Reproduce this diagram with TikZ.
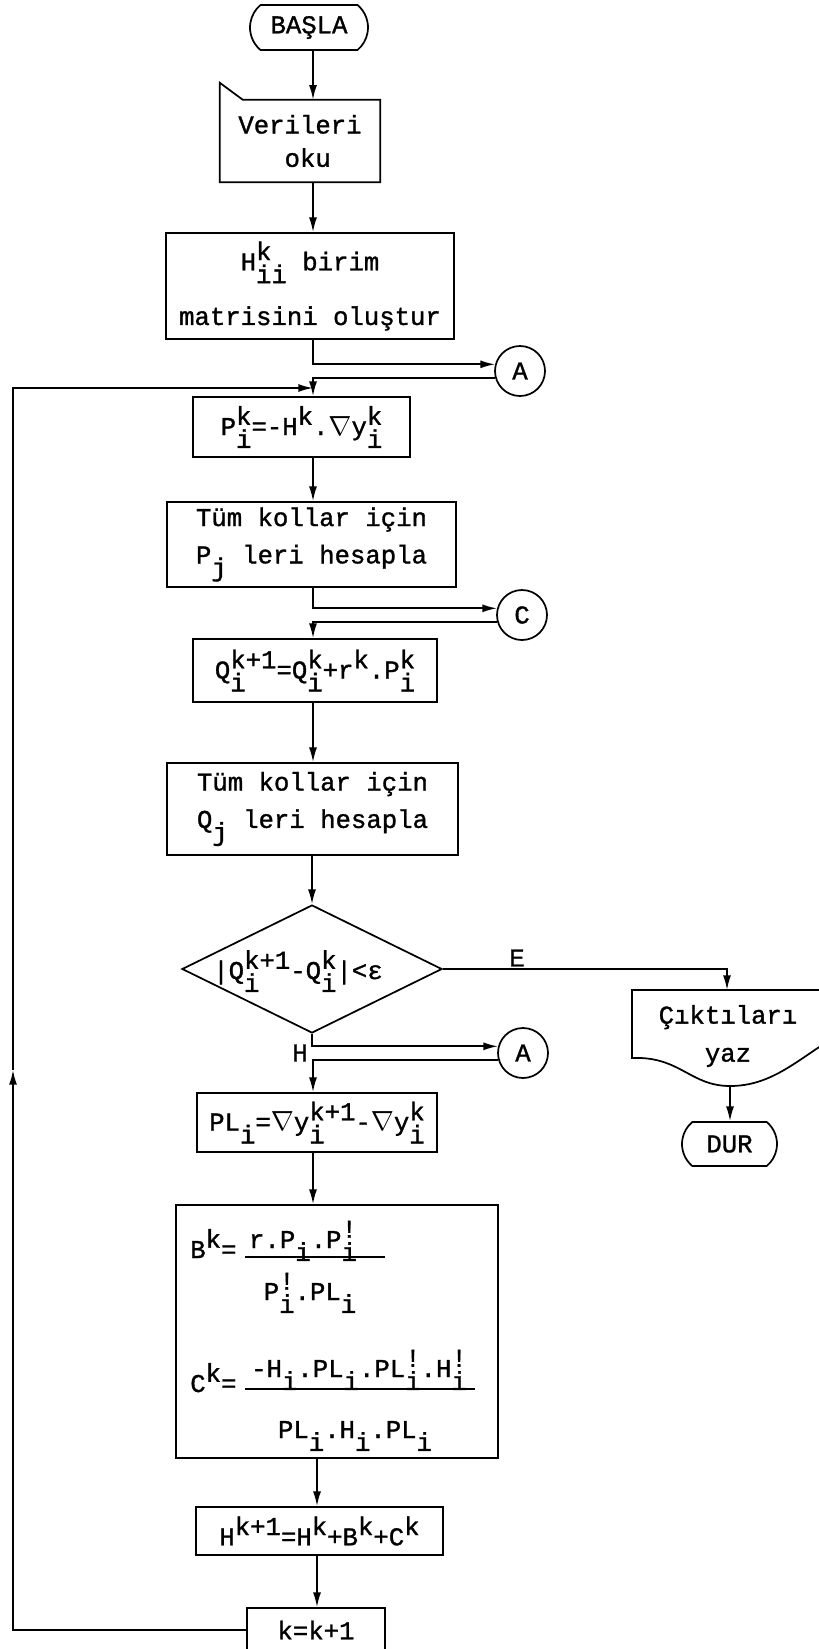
\documentclass[tikz,border=0pt]{standalone}
\usepackage{fontspec}
\setmonofont{Liberation Mono}[FakeBold=1.2]
\usetikzlibrary{arrows.meta}
\usetikzlibrary{shapes.geometric}
\usetikzlibrary{shapes.misc}

\newcommand{\tup}[1]{\raisebox{.4em}{#1}}
\newcommand{\tdn}[1]{\raisebox{-.5em}{#1}}
\newcommand{\tud}[2]{\mbox{\sbox0{\tup{#1}}\sbox2{\tdn{#2}}\rlap{\usebox0}\usebox2\ifdim\wd0>\wd2 \kern\dimexpr\wd0-\wd2\relax\fi}}
\newcommand{\tbang}{\tud{!}{i}}

\begin{document}
\begin{tikzpicture}[x=0.75pt,y=0.75pt,yscale=-1,xscale=1,
  every node/.style={font=\fontsize{19.25}{25}\selectfont\ttfamily},
  wire/.style={line width=1.3pt},
  flow/.style={wire,-{Latex[length=11pt,width=6pt]}},
  procbox/.style={draw,wire,rectangle,inner sep=0pt,align=center},
  termnode/.style={draw,wire,rounded rectangle,rounded rectangle arc length=100,inner sep=0pt},
  onpage/.style={draw,wire,circle,minimum size=37.5pt,inner sep=0pt}]
\useasboundingbox (0,0) rectangle (818,1649);

%Spine of the main column
\coordinate (spine) at (313,0);
\coordinate (spineb) at (317,0);
\coordinate (loopup) at (13,1070);
\coordinate (looptop) at (13,388);

% Start
\node[termnode,minimum width=88.5pt,minimum height=33.75pt] (start) at (309,27.5) {BAŞLA};
% Read data
\node[inner sep=0pt,align=center,minimum width=120pt,minimum height=61.5pt] (read) at (300,141) {\raisebox{-4pt}{Verileri}\\\raisebox{-4pt}{\ oku}};
\draw[wire] ([yshift=-12.75pt]read.north west) -- ([xshift=17.25pt]read.north west) -- (read.north east) -- (read.south east) -- (read.south west) -- cycle;
% Initial H
\node[procbox,minimum width=216pt,minimum height=79.5pt] (hinit) at (310,286) {H\tud{k}{ii} birim\\[16pt]matrisini oluştur};
% Connector A
\node[onpage] (a1) at (520,371) {A};
% Direction
\node[procbox,minimum width=162.75pt,minimum height=45pt] (pk) at (301.5,427) {P\tud{k}{i}=-H\tup{k}.$\nabla$y\tud{k}{i}};
% All branches, P
\node[procbox,minimum width=216.75pt,minimum height=63.75pt] (tum1) at (311.5,544.5) {Tüm kollar için\\[3pt]P\tdn{j} leri hesapla};
% Connector C
\node[onpage] (c1) at (522,615) {C};
% Update Q
\node[procbox,minimum width=183pt,minimum height=47.25pt] (qk) at (315,670.5) {Q\tud{k+1}{i}=Q\tud{k}{i}+r\tup{k}.P\tud{k}{i}};
% All branches, Q
\node[procbox,minimum width=218.25pt,minimum height=69pt] (tum2) at (312.5,809) {Tüm kollar için\\[3pt]Q\tdn{j} leri hesapla};
% Test
\node[draw,wire,diamond,minimum width=195pt,minimum height=96pt,inner sep=0pt] (dec) at (312,969) {};
\node (dectxt) at (298,971) {|Q\tud{k+1}{i}-Q\tud{k}{i}|<ε};
\node (elbl) at (517,958) {E};
\node (hlbl) at (300,1053) {H};
% Connector A again
\node[onpage] (a2) at (523,1053) {A};
% Output
\node[align=center,inner sep=0pt] (out) at (728,1036) {Çıktıları\\[3.5pt]yaz};
\draw[wire] (830,990) -- (632,990) -- (632,1058) .. controls (680,1056) and (690,1086) .. (730,1086) .. controls (770,1086) and (795,1062) .. (830,1040);
\coordinate (outtop) at (727,990);
\coordinate (outbot) at (730,1086);
% Stop
\node[termnode,minimum width=71.25pt,minimum height=33pt] (stop) at (729.5,1144) {DUR};
% Gradient difference
\node[procbox,minimum width=180pt,minimum height=44.25pt] (pl) at (317,1122.5) {PL\tdn{i}=$\nabla$y\tud{k+1}{i}-$\nabla$y\tud{k}{i}};
% Corrections
\node[procbox,minimum width=241.5pt,minimum height=189.75pt] (corr) at (337,1331.5) {};
\node[anchor=base west,inner sep=0pt] (bk) at (190,1258) {B\tup{k}=};
\node[anchor=base,inner sep=0pt] (bnum) at (303,1248) {r.P\tdn{i}.P\tbang};
\node[anchor=base,inner sep=0pt] (bden) at (310,1300) {P\tbang.PL\tdn{i}};
\draw[wire] (245,1257) -- (385,1257);
\node[anchor=base west,inner sep=0pt] (ck) at (190,1392) {C\tup{k}=};
\node[anchor=base,inner sep=0pt] (cnum) at (359,1377) {-H\tdn{i}.PL\tdn{i}.PL\tbang.H\tbang};
\node[anchor=base,inner sep=0pt] (cden) at (355,1438) {PL\tdn{i}.H\tdn{i}.PL\tdn{i}};
\draw[wire] (245,1389) -- (475,1389);
% Update H
\node[procbox,minimum width=185.25pt,minimum height=36pt] (hk) at (319.5,1531) {H\tup{k+1}=H\tup{k}+B\tup{k}+C\tup{k}};
% Counter
\node[procbox,minimum width=103.5pt,minimum height=33pt] (kbox) at (316,1630) {k=k+1};

% Flow lines
\draw[flow] (start.south -| spine) -- (read.north -| spine);
\draw[flow] (read.south -| spine) -- (hinit.north -| spine);
\draw[flow] (hinit.south -| spine) |- (a1.165);
\draw[flow] (a1.195) -| (pk.north -| spine);
\draw[flow] (kbox.west) -| (loopup);
\draw[flow] (loopup) |- (looptop -| spine);
\draw[flow] (pk.south -| spine) -- (tum1.north -| spine);
\draw[flow] (tum1.south -| spine) |- (c1.165);
\draw[flow] (c1.195) -| (qk.north -| spine);
\draw[flow] (qk.south -| spine) -- (tum2.north -| spine);
\draw[flow] (tum2.south -| dec.north) -- (dec.north);
\draw[flow] (dec.east) -| (outtop);
\draw[flow] (outbot) -- (outbot |- stop.north);
\draw[flow] (dec.south) |- (a2.165);
\draw[flow] (a2.195) -| (pl.north -| spine);
\draw[flow] (pl.south -| spine) -- (corr.north -| spine);
\draw[flow] (corr.south -| spineb) -- (hk.north -| spineb);
\draw[flow] (hk.south -| spineb) -- (kbox.north -| spineb);

\end{tikzpicture}
\end{document}
